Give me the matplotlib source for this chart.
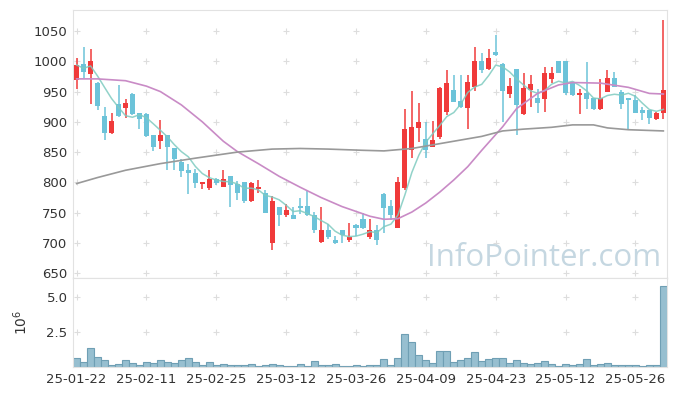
import numpy as np
import pandas as pd
import matplotlib
matplotlib.use("Agg")
import matplotlib.pyplot as plt

# daily OHLC (85 trading days)
opens = [969, 996, 979, 965, 910, 882, 929, 923, 946, 914,
         913, 878, 869, 878, 856, 833, 820, 816, 798, 791,
         805, 793, 810, 798, 800, 769, 789, 782, 700, 759,
         746, 746, 761, 761, 746, 701, 721, 704, 721, 705,
         729, 739, 710, 721, 781, 761, 725, 790, 853, 890,
         871, 859, 875, 916, 952, 934, 923, 958, 1001, 987,
         1015, 996, 946, 987, 913, 952, 940, 937, 971, 1000,
         1000, 965, 945, 948, 939, 921, 950, 973, 949, 939,
         936, 919, 919, 904, 915]
highs = [1005, 1023, 1021, 966, 925, 914, 961, 937, 947, 915,
         914, 879, 903, 879, 857, 838, 830, 822, 801, 820,
         808, 820, 811, 803, 801, 800, 804, 788, 778, 760,
         764, 759, 775, 786, 751, 759, 732, 711, 722, 733,
         731, 749, 740, 729, 782, 771, 809, 922, 951, 931,
         899, 901, 957, 986, 977, 977, 977, 1023, 1013, 1020,
         1043, 997, 972, 988, 980, 977, 955, 991, 991, 1001,
         1001, 966, 954, 999, 940, 971, 985, 983, 953, 940,
         944, 924, 920, 916, 1068]
lows = [955, 972, 930, 919, 870, 880, 908, 906, 912, 889,
        875, 852, 855, 820, 820, 809, 781, 790, 789, 788,
        795, 792, 760, 771, 766, 768, 782, 749, 689, 728,
        742, 739, 748, 745, 716, 700, 706, 698, 700, 702,
        712, 723, 707, 696, 716, 738, 724, 787, 840, 867,
        841, 858, 871, 911, 932, 923, 889, 951, 980, 985,
        1008, 900, 939, 878, 912, 925, 914, 917, 964, 980,
        945, 942, 913, 921, 920, 920, 949, 957, 921, 886,
        914, 903, 896, 903, 904]
closes = [994, 983, 1000, 926, 882, 902, 910, 931, 913, 904,
          876, 859, 878, 859, 839, 819, 816, 799, 800, 805,
          799, 805, 796, 783, 769, 799, 792, 750, 769, 746,
          754, 740, 757, 746, 721, 721, 709, 700, 713, 709,
          725, 725, 721, 705, 758, 746, 800, 888, 891, 900,
          854, 870, 956, 964, 933, 924, 966, 1001, 986, 1006,
          1010, 951, 959, 928, 956, 962, 931, 981, 981, 981,
          947, 944, 948, 937, 921, 940, 972, 958, 930, 936,
          915, 915, 906, 915, 952]
volumes = [0.62, 0.33, 1.34, 0.69, 0.48, 0.12, 0.19, 0.48, 0.26, 0.12,
           0.33, 0.26, 0.48, 0.33, 0.26, 0.48, 0.62, 0.33, 0.12, 0.33,
           0.12, 0.19, 0.12, 0.12, 0.12, 0.19, 0.05, 0.12, 0.19, 0.12,
           0.05, 0.05, 0.19, 0.05, 0.41, 0.12, 0.12, 0.19, 0.05, 0.05,
           0.12, 0.05, 0.12, 0.12, 0.55, 0.12, 0.62, 2.34, 1.77, 0.84,
           0.48, 0.26, 1.12, 1.12, 0.33, 0.48, 0.62, 1.05, 0.41, 0.55,
           0.62, 0.62, 0.26, 0.48, 0.26, 0.19, 0.26, 0.41, 0.19, 0.05,
           0.19, 0.12, 0.19, 0.55, 0.12, 0.19, 0.26, 0.12, 0.12, 0.12,
           0.12, 0.05, 0.12, 0.12, 5.80]  # millions

# longer moving averages at these candle positions
ma20_idx = [0, 3, 7, 10, 12, 15, 18, 21, 23, 26, 29, 32, 35, 38, 41, 42, 44,
            46, 48, 50, 52, 54, 56, 58, 61, 63, 66, 69, 71, 75, 79, 82, 84]
ma20_val = [971, 971, 968, 959, 950, 928, 900, 868, 851, 831, 810, 792, 775,
            760, 748, 744, 739, 740, 751, 766, 784, 804, 826, 853, 892, 922,
            947, 961, 965, 964, 957, 947, 946]
ma60_idx = [0, 3, 7, 12, 17, 20, 23, 28, 32, 36, 41, 44, 48, 51, 55, 58, 61,
            64, 68, 71, 74, 76, 79, 84]
ma60_val = [798, 808, 820, 831, 840, 845, 850, 855, 856, 855, 853, 852, 856,
            862, 870, 876, 885, 888, 891, 895, 895, 890, 887, 885]

tick_pos = [0, 10, 20, 30, 40, 50, 60, 70, 80]
tick_labels = ['25-01-22', '25-02-11', '25-02-25', '25-03-12', '25-03-26',
               '25-04-09', '25-04-23', '25-05-12', '25-05-26']

UP = '#f03a3a'
DOWN = '#6cc3d9'

o = np.array(opens, float)
h = np.array(highs, float)
l = np.array(lows, float)
c = np.array(closes, float)
x = np.arange(len(c))
ma5 = pd.Series(c).rolling(5, min_periods=1).mean()

fig = plt.figure(figsize=(6.77, 3.96), dpi=100)
ax = fig.add_axes([0.108, 0.298, 0.877, 0.677])
axv = fig.add_axes([0.108, 0.073, 0.877, 0.225], sharex=ax)

colors = np.where(c >= o, UP, DOWN)
body_lo = np.minimum(o, c)
body_h = np.maximum(np.abs(c - o), 1.5)
ax.vlines(x, l, h, colors=colors, linewidth=1.1, zorder=2)
ax.bar(x, body_h, bottom=body_lo, width=0.72, color=colors, linewidth=0, zorder=3)

ax.plot(x, ma5, color='#7fcbc0', lw=1.1, alpha=0.85, zorder=4)
ax.plot(ma20_idx, ma20_val, color='#c98bc6', lw=1.2, zorder=4)
ax.plot(ma60_idx, ma60_val, color='#999999', lw=1.2, zorder=4)

ax.set_ylim(642, 1085)
ax.set_yticks(range(650, 1051, 50))
ax.set_xlim(-0.5, 84.5)

ax.text(0.99, 0.02, 'InfoPointer.com', transform=ax.transAxes, ha='right',
        va='bottom', fontsize=22.5, color='#c5d7e1', family='Open Sans', zorder=1)

axv.bar(x, np.array(volumes) * 1e6, width=1.0, color='#97bfd0',
        edgecolor='#6f9fb4', linewidth=0.8)
axv.set_ylim(0, 6.36e6)
axv.set_yticks([2.5e6, 5.0e6])
axv.set_yticklabels(['2.5', '5.0'])
axv.set_ylabel('10$^6$', fontsize=10, color='#333333', labelpad=12)
axv.set_xticks(tick_pos)
axv.set_xticklabels(tick_labels)

# '+' marks where grid lines would cross
gx, gy = np.meshgrid(tick_pos, range(650, 1051, 50))
ax.scatter(gx.ravel(), gy.ravel(), marker='+', s=18, color='#dddddd', lw=0.8, zorder=0)
gx, gy = np.meshgrid(tick_pos, [2.5e6, 5.0e6])
axv.scatter(gx.ravel(), gy.ravel(), marker='+', s=18, color='#dddddd', lw=0.8, zorder=0)

for a in (ax, axv):
    for s in a.spines.values():
        s.set_color('#e2e2e2')
    a.tick_params(length=0, labelsize=9.5, colors='#333333', pad=4)
ax.spines['bottom'].set_color('#d0d0d0')
plt.setp(ax.get_xticklabels(), visible=False)

fig.savefig('out.png', dpi=100)
